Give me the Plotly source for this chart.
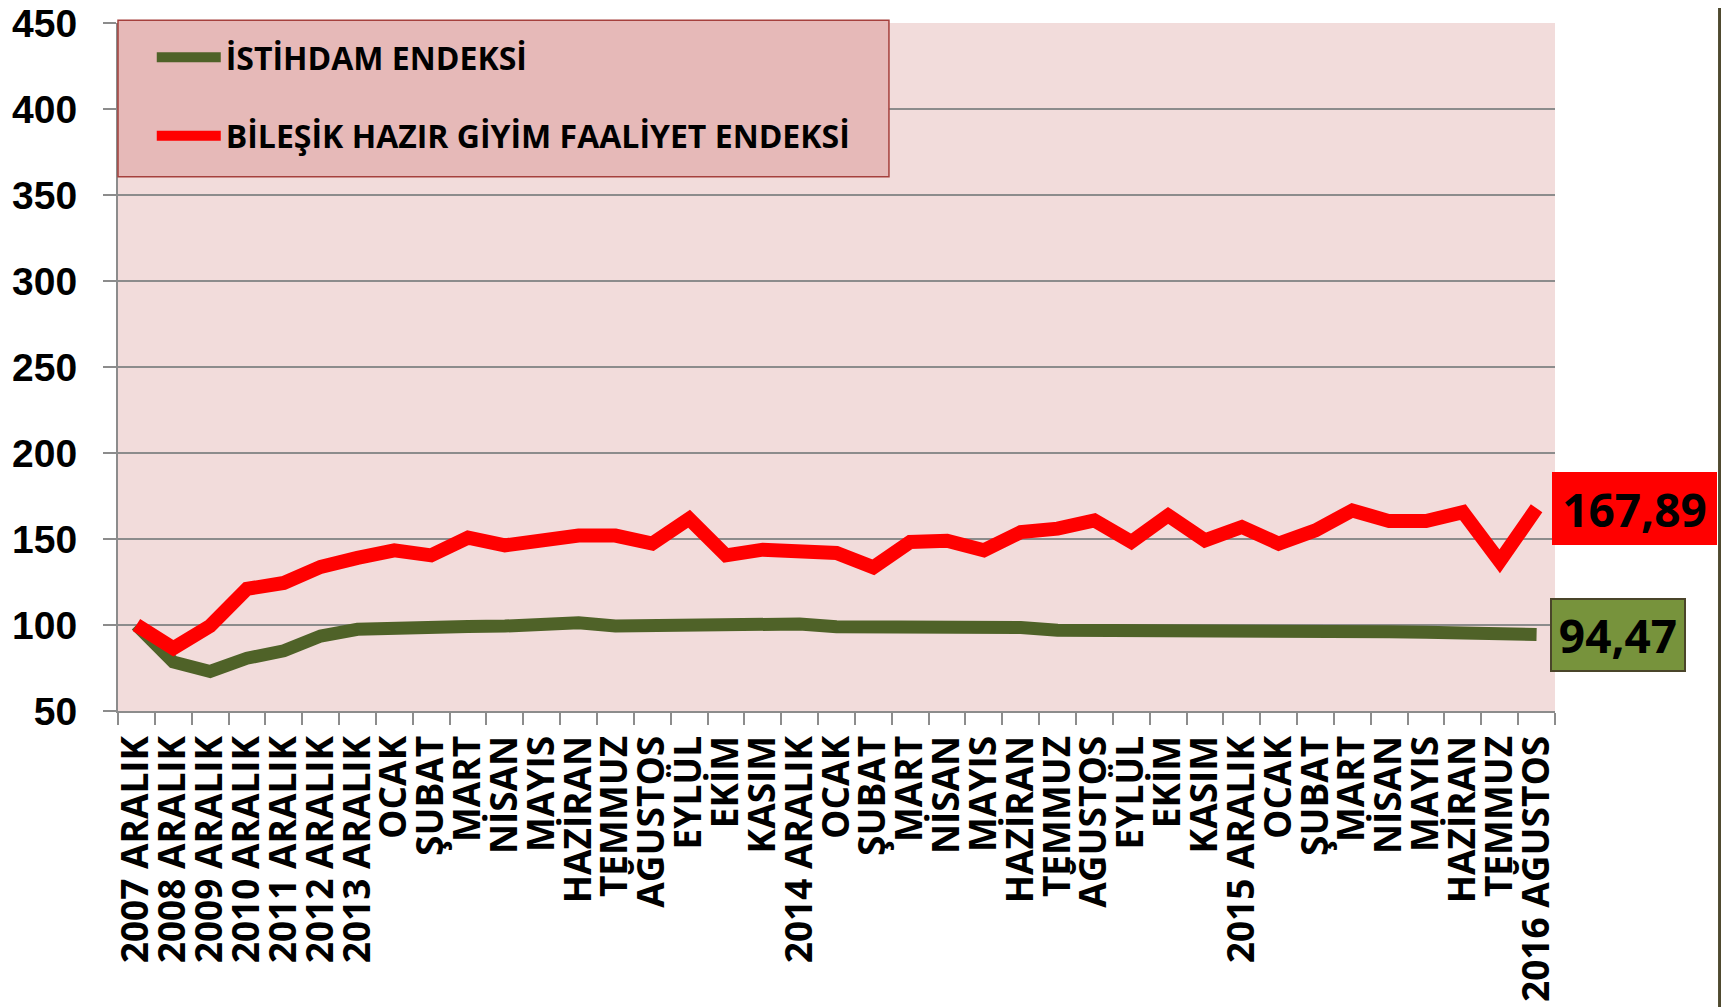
import plotly.graph_objects as go

categories = [
    "2007 ARALIK", "2008 ARALIK", "2009 ARALIK", "2010 ARALIK", "2011 ARALIK",
    "2012 ARALIK", "2013 ARALIK",
    "OCAK", "ŞUBAT", "MART", "NİSAN", "MAYIS", "HAZİRAN", "TEMMUZ", "AĞUSTOS",
    "EYLÜL", "EKİM", "KASIM", "2014 ARALIK",
    "OCAK", "ŞUBAT", "MART", "NİSAN", "MAYIS", "HAZİRAN", "TEMMUZ", "AĞUSTOS",
    "EYLÜL", "EKİM", "KASIM", "2015 ARALIK",
    "OCAK", "ŞUBAT", "MART", "NİSAN", "MAYIS", "HAZİRAN", "TEMMUZ", "2016 AĞUSTOS",
]

istihdam = [
    100, 78.5, 73, 80.7, 85, 93.6, 97.5, 98.5, 99, 99.2, 99.4, 101, 101.3, 99.4,
    99.8, 99.8, 99, 100.6, 100.6, 99, 98.8, 100.2, 100, 98.6, 98.5, 97, 97, 96.1,
    96.3, 97.9, 97.9, 96.3, 96.3, 96.5, 96.1, 95.8, 95.2, 94, 94.47,
]

faaliyet = [
    100, 86.5, 99.5, 121, 124.5, 133.8, 139, 143.4, 140.5, 150.8, 146.3, 149.6,
    152, 152, 147.3, 161.8, 140.5, 143.8, 143.8, 141.9, 133.5, 148.3, 149, 143.4,
    154, 156, 160.8, 148.3, 163.7, 149.2, 157, 147.3, 155, 166.6, 160.4, 160.4,
    165.6, 137, 167.89,
]

series_names = ["İSTİHDAM ENDEKSİ", "BİLEŞİK HAZIR GİYİM FAALİYET ENDEKSİ"]
end_labels = ["94,47", "167,89"]
y_ticks = [50, 100, 150, 200, 250, 300, 350, 400, 450]

GREEN = "#4F6228"
RED = "#FF0000"

x = list(range(len(categories)))

fig = go.Figure()
fig.add_trace(go.Scatter(
    x=x, y=istihdam, mode="lines", name=series_names[0], legendgroup="g1",
    line=dict(color=GREEN, width=13), hoverinfo="skip",
))
fig.add_trace(go.Scatter(
    x=x, y=faaliyet, mode="lines", name=series_names[1], legendgroup="g2",
    line=dict(color=RED, width=14), hoverinfo="skip",
))

# end value labels
fig.add_annotation(
    x=x[-1], y=faaliyet[-1], xref="x", yref="y", text=end_labels[1],
    showarrow=False, xanchor="left", yanchor="middle", xshift=15,
    bgcolor=RED, borderpad=6, borderwidth=0, width=153, height=61,
    font=dict(family="Open Sans", size=46, color="black", weight="bold"),
)
fig.add_annotation(
    x=x[-1], y=istihdam[-1], xref="x", yref="y", text=end_labels[0],
    showarrow=False, xanchor="left", yanchor="middle", xshift=13,
    bgcolor="#77933C", bordercolor="#4A452A", borderwidth=2, borderpad=6,
    width=120, height=58,
    font=dict(family="Open Sans", size=46, color="black", weight="bold"),
)

# legend box
fig.add_shape(
    type="rect", xref="paper", yref="paper", x0=0.0, x1=0.5365, y0=0.7764, y1=1.004,
    fillcolor="#E6B9B8", line=dict(color="#A5403D", width=1.5), layer="above",
)
# right chart border
fig.add_shape(
    type="line", xref="paper", yref="paper", x0=1.1145, x1=1.1145, y0=-0.45, y1=1.05,
    line=dict(color="#4F4A30", width=3), layer="above",
)

fig.update_layout(
    width=1721, height=999,
    margin=dict(l=110, r=174, t=15, b=296, autoexpand=False),
    paper_bgcolor="white", plot_bgcolor="#F2DCDB",
    showlegend=True,
    legend=dict(
        x=0.0235, y=0.99, xanchor="left", yanchor="top",
        bgcolor="rgba(0,0,0,0)", borderwidth=0,
        font=dict(family="Open Sans", size=32, color="black", weight="bold"),
        traceorder="grouped", tracegroupgap=34, itemwidth=64,
    ),
    xaxis=dict(
        range=[-0.5, len(categories) - 0.5],
        tickmode="array", tickvals=x, ticktext=categories,
        tickangle=-90, ticks="", showgrid=False, zeroline=False,
        showline=True, linecolor="#8C8C8C", linewidth=2,
        tickfont=dict(family="Open Sans", size=37, color="black", weight="bold"),
        ticklabelstandoff=8,
        minor=dict(
            tickmode="array",
            tickvals=[i - 0.5 for i in range(len(categories) + 1)],
            ticks="outside", ticklen=12, tickcolor="#8C8C8C", tickwidth=2,
            showgrid=False,
        ),
        automargin=False,
    ),
    yaxis=dict(
        range=[50, 450], tickmode="array", tickvals=y_ticks,
        ticks="outside", ticklen=13, tickcolor="#8C8C8C", tickwidth=2,
        showgrid=True, gridcolor="#8C8C8C", gridwidth=1.5,
        showline=True, linecolor="#8C8C8C", linewidth=2, zeroline=False,
        tickfont=dict(family="Liberation Sans", size=39, color="black", weight="bold"),
        ticklabelstandoff=18, ticklabeloverflow="allow",
        automargin=False,
    ),
)

fig.write_html("out.html")
